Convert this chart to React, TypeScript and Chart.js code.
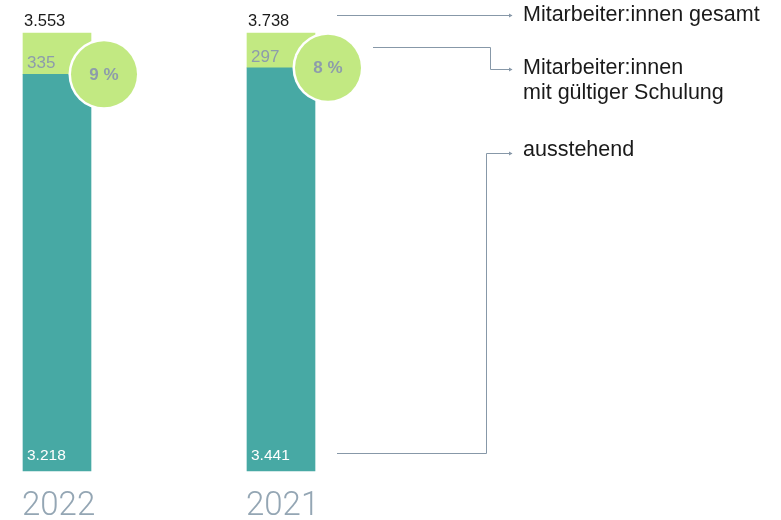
import React, { useEffect, useRef } from "react";
import { Chart, registerables } from "chart.js";

Chart.register(...registerables);

const years = ["2022", "2021"];
const totalStaff = [3553, 3738];
const trainedStaff = [335, 297];
const pendingStaff = [3218, 3441];
const legendTotal = ["Mitarbeiter:innen gesamt"];
const legendTrained = ["Mitarbeiter:innen", "mit gültiger Schulung"];
const legendPending = ["ausstehend"];

const TEAL = "#47a9a4";
const GREEN = "#c2e982";
const LINE = "#8798a8";
const LABEL_GREY = "#8d9cab";
const YEAR_GREY = "#94a6b4";
const FONT = '"Liberation Sans", Arial, Helvetica, sans-serif';

const fmt = (n: number) => String(n).replace(/\B(?=(\d{3})+(?!\d))/g, ".");

const pendingPct = pendingStaff.map((v, i) => (v / totalStaff[i]) * 100);
const trainedPct = trainedStaff.map((v, i) => (v / totalStaff[i]) * 100);

const annotations = {
  id: "annotations",
  afterDatasetsDraw(chart: any) {
    const ctx: CanvasRenderingContext2D = chart.ctx;
    const m0 = chart.getDatasetMeta(0);
    const m1 = chart.getDatasetMeta(1);
    ctx.save();
    years.forEach((yr, i) => {
      const tb: any = m0.data[i];
      const gb: any = m1.data[i];
      const w = gb.width;
      const left = gb.x - w / 2;
      const right = gb.x + w / 2;
      const top = gb.y;
      const boundary = gb.base;
      const bottom = tb.base;

      ctx.textAlign = "left";
      ctx.textBaseline = "alphabetic";
      // total above bar
      ctx.fillStyle = "#1a1a1a";
      ctx.font = `16.5px ${FONT}`;
      ctx.fillText(fmt(totalStaff[i]), left + 1, top - 7);
      // trained value in green segment
      ctx.fillStyle = LABEL_GREY;
      ctx.font = `17px ${FONT}`;
      ctx.fillText(fmt(trainedStaff[i]), left + 4, boundary - 6);
      // pending value in teal segment
      ctx.fillStyle = "#ffffff";
      ctx.font = `15.5px ${FONT}`;
      ctx.fillText(fmt(pendingStaff[i]), left + 4, bottom - 11);

      // percentage circle
      const cx = right + 13;
      const cy = boundary;
      const r = 33;
      ctx.beginPath();
      ctx.arc(cx, cy, r + 2.5, 0, Math.PI * 2);
      ctx.fillStyle = "#ffffff";
      ctx.fill();
      ctx.beginPath();
      ctx.arc(cx, cy, r, 0, Math.PI * 2);
      ctx.fillStyle = GREEN;
      ctx.fill();
      ctx.fillStyle = LABEL_GREY;
      ctx.font = `bold 17px ${FONT}`;
      ctx.textAlign = "center";
      ctx.textBaseline = "middle";
      const pct = Math.round((trainedStaff[i] / totalStaff[i]) * 100);
      ctx.fillText(`${pct} %`, cx, cy + 1);

      // year label
      ctx.textAlign = "left";
      ctx.textBaseline = "alphabetic";
      ctx.fillStyle = YEAR_GREY;
      ctx.font = `300 33px Roboto, ${FONT}`;
      ctx.fillText(yr, left - 1, bottom + 44);
    });

    // legend connectors, anchored on the last bar
    const last = years.length - 1;
    const gb: any = m1.data[last];
    const tb: any = m0.data[last];
    const right = gb.x + gb.width / 2;
    const endX = 512;
    const textX = 523;
    ctx.strokeStyle = LINE;
    ctx.lineWidth = 1;
    const arrow = (x: number, y: number) => {
      ctx.beginPath();
      ctx.moveTo(x - 3, y - 2);
      ctx.lineTo(x + 0.5, y);
      ctx.lineTo(x - 3, y + 2);
      ctx.closePath();
      ctx.fillStyle = LINE;
      ctx.fill();
    };
    const px = (v: number) => Math.round(v) + 0.5;

    // total
    const y1 = px(gb.y - 18);
    ctx.beginPath();
    ctx.moveTo(right + 22, y1);
    ctx.lineTo(endX, y1);
    ctx.stroke();
    arrow(endX, y1);

    // trained
    const y2 = px(gb.y + 14);
    const e2 = px(gb.base + 1);
    const elbow2 = px(490);
    ctx.beginPath();
    ctx.moveTo(right + 58, y2);
    ctx.lineTo(elbow2, y2);
    ctx.lineTo(elbow2, e2);
    ctx.lineTo(endX, e2);
    ctx.stroke();
    arrow(endX, e2);

    // pending
    const y3 = px(tb.base - 18);
    const e3 = px(153);
    const elbow3 = px(486);
    ctx.beginPath();
    ctx.moveTo(right + 22, y3);
    ctx.lineTo(elbow3, y3);
    ctx.lineTo(elbow3, e3);
    ctx.lineTo(endX, e3);
    ctx.stroke();
    arrow(endX, e3);

    ctx.fillStyle = "#1a1a1a";
    ctx.font = `21.5px ${FONT}`;
    ctx.textAlign = "left";
    ctx.textBaseline = "middle";
    legendTotal.forEach((t, k) => ctx.fillText(t, textX, y1 + k * 25));
    legendTrained.forEach((t, k) => ctx.fillText(t, textX, e2 - 1 + k * 25));
    legendPending.forEach((t, k) => ctx.fillText(t, textX, e3 - 3 + k * 25));
    ctx.restore();
  },
};

export default function App() {
  const ref = useRef<HTMLCanvasElement>(null);
  useEffect(() => {
    if (!ref.current) return;
    const chart = new Chart(ref.current, {
      type: "bar",
      data: {
        labels: years,
        datasets: [
          {
            label: "ausstehend",
            data: pendingPct,
            backgroundColor: TEAL,
            borderWidth: 0,
            barThickness: 68,
            clip: false,
          } as any,
          {
            label: "Mitarbeiter:innen mit gültiger Schulung",
            data: trainedPct,
            backgroundColor: GREEN,
            borderWidth: 0,
            barThickness: 68,
            clip: false,
          } as any,
        ],
      },
      options: {
        responsive: false,
        animation: false,
        layout: { padding: { left: 57, right: 500, top: 33, bottom: 49 } },
        scales: {
          x: { stacked: true, display: false, offset: false },
          y: { stacked: true, display: false, min: 0, max: 100 },
        },
        plugins: {
          legend: { display: false },
          tooltip: { enabled: false },
        },
      },
      plugins: [annotations],
    });
    return () => chart.destroy();
  }, []);
  return (
    <div style={{ position: "fixed", left: 0, top: 0, width: 781, height: 520, background: "#fff" }}>
      <canvas ref={ref} width={781} height={520} style={{ display: "block" }} />
    </div>
  );
}
